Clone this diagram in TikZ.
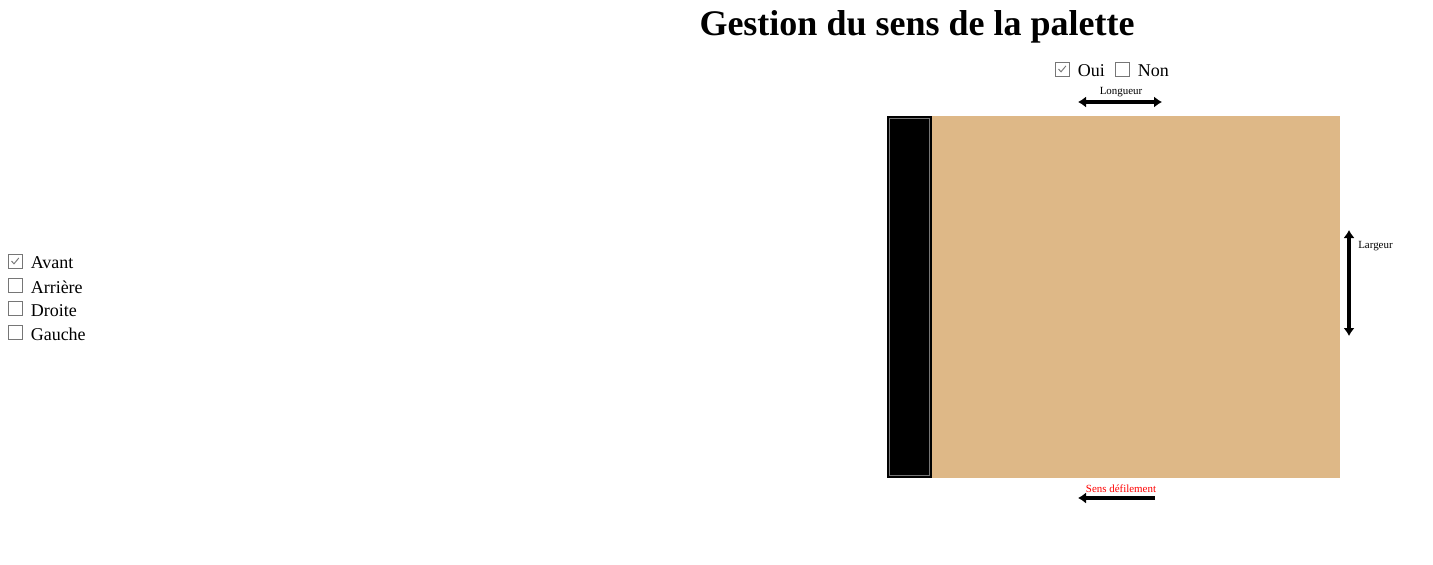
\documentclass[tikz,border=0pt]{standalone}
\usepackage{fontspec}
\setmainfont{Liberation Serif}
\usepackage{tikz}
\usetikzlibrary{positioning,arrows.meta}
\definecolor{bois}{HTML}{DEB887}
\definecolor{cadre}{HTML}{767676}
\newcommand{\coche}[1]{\draw[cadre,line width=0.7pt] ([shift={(-3.5,0)}]#1.center) -- ([shift={(-1,2.8)}]#1.center) -- ([shift={(3.8,-3)}]#1.center);}

\begin{document}
\begin{tikzpicture}[x=0.75pt,y=-0.75pt,
                    every node/.style={font=\fontsize{13.5}{16}\selectfont},
                    case/.style={draw=cadre,line width=0.75pt,fill=white,
                                 minimum size=10.5pt,inner sep=0pt},
                    lbl/.style={anchor=west,inner sep=0pt},
                    petit/.style={font=\fontsize{8.2}{10}\selectfont,inner sep=0pt},
                    fleche/.style={line width=3pt,
                                   {Latex[length=6pt,width=8.5pt]}-{Latex[length=6pt,width=8.5pt]}}]
\useasboundingbox (0,0) rectangle (1433,564);

% titre
\node[font=\bfseries\fontsize{27}{32}\selectfont] (titre) at (917,27) {Gestion du sens de la palette};

% oui / non
\node[case] (cOui) at (1062,69) {};
\node[lbl,right=6pt of cOui,yshift=-1pt]  (tOui) {Oui};
\node[case] (cNon) at (1122,69) {};
\node[lbl,right=6pt of cNon,yshift=-1pt]  (tNon) {Non};
\coche{cOui}

% sens de la palette
\node[case] (cAvant)   at (15,261) {};
\node[case] (cArriere) at (15,285) {};
\node[case] (cDroite)  at (15,308) {};
\node[case] (cGauche)  at (15,332) {};
\node[lbl,right=6pt of cAvant,yshift=-1.5pt]   (tAvant)   {Avant};
\node[lbl,right=6pt of cArriere,yshift=-1.5pt] (tArriere) {Arrière};
\node[lbl,right=6pt of cDroite,yshift=-2pt]    (tDroite)  {Droite};
\node[lbl,right=6pt of cGauche,yshift=-1.5pt]  (tGauche)  {Gauche};
\coche{cAvant}

% palette
\fill[bois] (932,116) rectangle (1340,478);
\fill[black] (887,116) rectangle (932,478);
\draw[cadre,line width=0.75pt] (889.5,118.5) rectangle (929.5,475.5);

% longueur
\node[petit] (tLong) at (1121,92.5) {Longueur};
\coordinate (lgA) at (1078,102);
\coordinate (lgB) at (1162,102);
\draw[fleche] (lgA) -- (lgB);

% largeur
\coordinate (laA) at (1349,230);
\coordinate (laB) at (1349,336);
\draw[fleche] (laA) -- (laB);
\node[petit,anchor=west] (tLarg) at (1358,246.5) {Largeur};

% sens de defilement
\node[petit,red] (tSens) at (1121,488.5) {Sens défilement};
\coordinate (sdA) at (1155,498);
\coordinate (sdB) at (1078,498);
\draw[line width=3pt,-{Latex[length=6pt,width=8.5pt]}] (sdA) -- (sdB);
\end{tikzpicture}
\end{document}
